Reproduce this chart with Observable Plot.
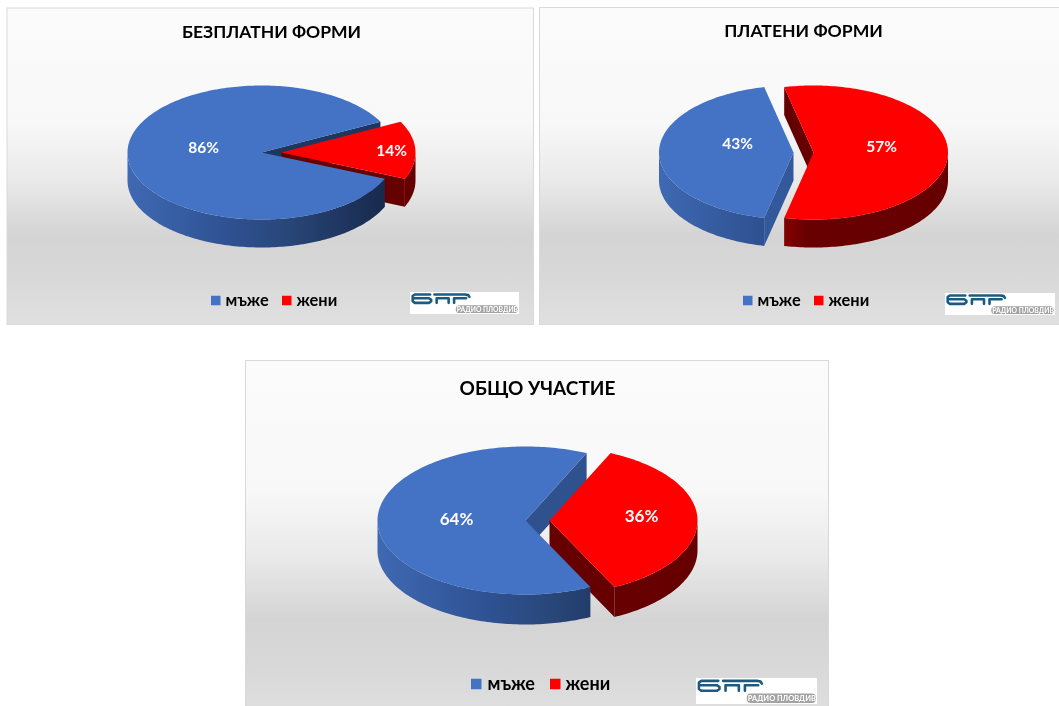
<!DOCTYPE html>
<html>
<head>
<meta charset="utf-8">
<script src="https://cdn.jsdelivr.net/npm/d3@7"></script>
<script src="https://cdn.jsdelivr.net/npm/@observablehq/plot@0.6"></script>
<style>html,body{margin:0;padding:0;background:#fff;overflow:hidden} svg{filter:blur(.35px)}</style>
</head>
<body>
<div id="chart"></div>
<script>
const titles = ["БЕЗПЛАТНИ ФОРМИ", "ПЛАТЕНИ ФОРМИ", "ОБЩО УЧАСТИЕ"];
const men = [86, 43, 64];
const women = [14, 57, 36];
const seriesNames = ["мъже", "жени"];
const logoText = "РАДИО ПЛОВДИВ";

const FONT = 'Lato, "Noto Sans", sans-serif';
const colors = {men: "#4472c4", women: "#ff0000", womenSide: "#660000"};
const layout = [
  {panel: [7, 8, 533.5, 324.5], cx: 261, cy: 152, rx: 134, ry: 67, depth: 28, start: 113, explode: 20, side: "#1f3660",
   title: [271, 32, 17.5], label: [[-58, -4], [110, -1]], lab: 15.5,
   legend: [211, 225, 282, 296, 300.5, 9.5, 16.4], logo: [410, 292, 109, 22]},
  {panel: [539.5, 7.5, 1070, 324.5], cx: 793, cy: 152, rx: 134.5, ry: 67, depth: 28, start: 192.6, explode: 20, side: "#33589b",
   title: [803, 31, 17.6], label: [[-56, -8], [68, -5]], lab: 15.5,
   legend: [743, 757, 814, 828, 300.5, 9.5, 16.4], logo: [945, 293, 110, 22]},
  {panel: [245.5, 360.5, 828.5, 720], cx: 525, cy: 520, rx: 148, ry: 74, depth: 30, start: 154, explode: 24, side: "#2f528f",
   title: [537, 388, 19], label: [[-69, -1], [92, -4]], lab: 17,
   legend: [471, 487, 550, 565, 684, 10.5, 18], logo: [696, 678, 121, 26]}
];

// strokes of the logo, as fractions of the logo box
const logoStrokes = [
  [[.18,.09],[.04,.09],[.02,.16],[.02,.40],[.04,.47],[.17,.47],[.19,.40],[.19,.33],[.17,.26],[.02,.26]],
  [[.24,.47],[.24,.26],[.35,.26],[.35,.47]],
  [[.22,.09],[.50,.09],[.53,.12],[.54,.2]],
  [[.40,.47],[.40,.26],[.51,.26]]
];

const rad = (d) => d * Math.PI / 180;
const arc = (g, cx, cy, a0, a1) => {
  const n = Math.max(2, Math.ceil(Math.abs(a1 - a0) / 0.02));
  return d3.range(n + 1).map((i) => {
    const a = a0 + (a1 - a0) * i / n;
    return {x: cx + g.rx * Math.sin(a), y: cy - g.ry * Math.cos(a)};
  });
};

const shapes = [];
const middleTexts = [];
const startTexts = [];
const rects = [];
const logoLines = [];
const defsData = [];

const add = (pts, fill) => shapes.push({pts, fill});

function outerWall(g, cx, a0, a1, fill) {
  for (const k of [-1, 0, 1, 2]) {
    const lo = Math.max(a0, rad(90 + 360 * k)), hi = Math.min(a1, rad(270 + 360 * k));
    if (hi > lo) {
      const top = arc(g, cx, g.cy, lo, hi);
      const bottom = arc(g, cx, g.cy + g.depth, hi, lo);
      add(top.concat(bottom), fill);
    }
  }
}
function radialWall(g, cx, a, fill) {
  const o = arc(g, cx, g.cy, a, a)[0];
  add([{x: cx, y: g.cy}, o, {x: o.x, y: o.y + g.depth}, {x: cx, y: g.cy + g.depth}], fill);
}

layout.forEach((g, i) => {
  const s = rad(g.start);
  const [m, w] = d3.pie().sort(null).startAngle(s).endAngle(s + 2 * Math.PI)([men[i], women[i]]);
  const cxW = g.cx + g.explode;
  defsData.push({i, x1: g.cx - g.rx, x2: g.cx + g.rx});

  // back / side walls
  if (Math.sin(m.startAngle) < 0) radialWall(g, g.cx, m.startAngle, g.side);
  if (Math.sin(m.endAngle) > 0) radialWall(g, g.cx, m.endAngle, g.side);
  if (Math.sin(w.startAngle) < 0) radialWall(g, cxW, w.startAngle, colors.womenSide);
  if (Math.sin(w.endAngle) > 0) radialWall(g, cxW, w.endAngle, colors.womenSide);
  // women slice
  outerWall(g, cxW, w.startAngle, w.endAngle, `url(#wallW${i})`);
  add([{x: cxW, y: g.cy}].concat(arc(g, cxW, g.cy, w.startAngle, w.endAngle)), colors.women);
  // men slice
  outerWall(g, g.cx, m.startAngle, m.endAngle, `url(#wallM${i})`);
  add([{x: g.cx, y: g.cy}].concat(arc(g, g.cx, g.cy, m.startAngle, m.endAngle)), colors.men);

  // texts
  middleTexts.push({x: g.title[0], y: g.title[1], t: titles[i], fs: g.title[2], c: "#000"});
  middleTexts.push({x: g.cx + g.label[0][0], y: g.cy + g.label[0][1], t: men[i] + "%", fs: g.lab, c: "#fff"});
  middleTexts.push({x: cxW + g.label[1][0], y: g.cy + g.label[1][1], t: women[i] + "%", fs: g.lab, c: "#fff"});
  const [sq1, t1, sq2, t2, ly, sz, fs] = g.legend;
  rects.push({x1: sq1, x2: sq1 + sz, y1: ly - sz / 2, y2: ly + sz / 2, f: colors.men});
  rects.push({x1: sq2, x2: sq2 + sz, y1: ly - sz / 2, y2: ly + sz / 2, f: colors.women});
  startTexts.push({x: t1, y: ly, t: seriesNames[0], fs, c: "#000"});
  startTexts.push({x: t2, y: ly, t: seriesNames[1], fs, c: "#000"});

  // logo strokes
  const [lx, ly2, lw, lh] = g.logo;
  logoStrokes.forEach((st) => logoLines.push(st.map(([u, v]) => ({x: lx + u * lw, y: ly2 + v * lh}))));
});

const defs = () => {
  const d = d3.create("svg:defs");
  const grad = (id, attrs, stops) => {
    const lg = d.append("linearGradient").attr("id", id);
    Object.entries(attrs).forEach(([k, v]) => lg.attr(k, v));
    stops.forEach(([o, c]) => lg.append("stop").attr("offset", o).attr("stop-color", c));
  };
  grad("panelBg", {x1: 0, y1: 0, x2: 0, y2: 1},
    [[0, "#fbfbfb"], [.36, "#f8f8f8"], [.55, "#e9e9e9"], [.72, "#d4d4d4"], [.85, "#d8d8d8"], [1, "#e0e0e0"]]);
  defsData.forEach(({i, x1, x2}) => {
    const a = {gradientUnits: "userSpaceOnUse", x1, x2, y1: 0, y2: 0};
    grad(`wallM${i}`, a, [[0, "#3f69b3"], [.38, "#2e5191"], [.6, "#284678"], [.95, "#182a4e"], [1, "#182a4e"]]);
    grad(`wallW${i}`, a, [[0, "#c00000"], [.35, "#a80000"], [.55, "#680000"], [1, "#660000"]]);
  });
  return d.node();
};

const panels = layout.map((g) => ({x1: g.panel[0], y1: g.panel[1], x2: g.panel[2], y2: g.panel[3]}));
const logos = layout.map((g) => ({x1: g.logo[0], y1: g.logo[1], x2: g.logo[0] + g.logo[2], y2: g.logo[1] + g.logo[3]}));
const pills = layout.map((g) => ({x1: g.logo[0] + .42 * g.logo[2], x2: g.logo[0] + .99 * g.logo[2],
  y1: g.logo[1] + .6 * g.logo[3], y2: g.logo[1] + .96 * g.logo[3]}));
const pillText = pills.map((p) => ({x: (p.x1 + p.x2) / 2, y: (p.y1 + p.y2) / 2 + .3, fs: (p.x2 - p.x1) / 9.2}));

const txt = (data, textAnchor) => Plot.text(data, {x: "x", y: "y", text: "t", fill: "c", fontSize: "fs", textAnchor,
  fontWeight: "bold", fontFamily: FONT});

const plot = Plot.plot({
  width: 1059, height: 706, margin: 0,
  style: {background: "#fff", fontFamily: FONT},
  x: {type: "linear", domain: [0, 1059], range: [0, 1059], axis: null},
  y: {type: "linear", domain: [0, 706], range: [0, 706], axis: null},
  color: {type: "identity"},
  marks: [
    defs,
    Plot.rect(panels, {x1: "x1", x2: "x2", y1: "y1", y2: "y2", fill: "url(#panelBg)", stroke: "#d9d9d9", strokeWidth: 1}),
    ...shapes.map((s) => Plot.line(s.pts, {x: "x", y: "y", fill: s.fill, stroke: "none"})),
    Plot.rect(rects, {x1: "x1", x2: "x2", y1: "y1", y2: "y2", fill: "f", inset: 0}),
    txt(middleTexts, "middle"),
    txt(startTexts, "start"),
    Plot.rect(logos, {x1: "x1", x2: "x2", y1: "y1", y2: "y2", fill: "#fff"}),
    ...logoLines.map((pts) => Plot.line(pts, {x: "x", y: "y", stroke: "#1c5a80", strokeWidth: 2.6})),
    Plot.rect(pills, {x1: "x1", x2: "x2", y1: "y1", y2: "y2", fill: "#a3a3a3", rx: 4}),
    Plot.text(pillText, {x: "x", y: "y", text: () => logoText, fill: "#fff", fontSize: "fs", fontWeight: "bold", fontFamily: FONT})
  ]
});
document.getElementById("chart").appendChild(plot);
</script>
</body>
</html>
